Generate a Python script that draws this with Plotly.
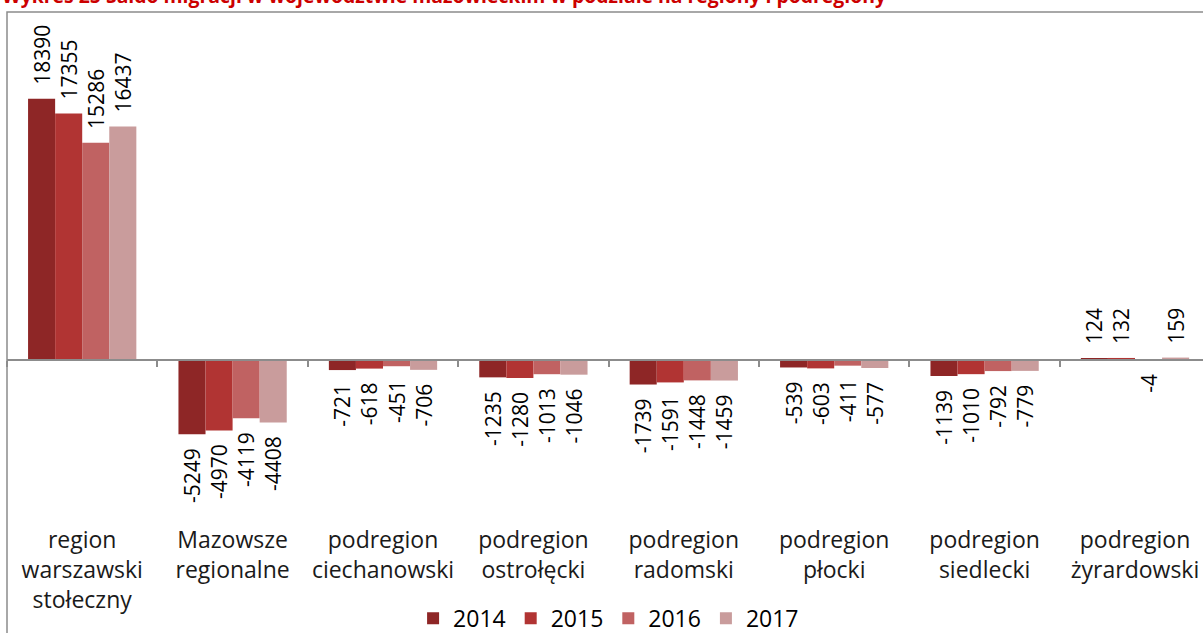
import plotly.graph_objects as go

# ---- data ----
categories = ["region<br>warszawski<br>stołeczny", "Mazowsze<br>regionalne",
              "podregion<br>ciechanowski", "podregion<br>ostrołęcki",
              "podregion<br>radomski", "podregion<br>płocki",
              "podregion<br>siedlecki", "podregion<br>żyrardowski"]
years = ["2014", "2015", "2016", "2017"]
v2014 = [18390, -5249, -721, -1235, -1739, -539, -1139, 124]
v2015 = [17355, -4970, -618, -1280, -1591, -603, -1010, 132]
v2016 = [15286, -4119, -451, -1013, -1448, -411, -792, -4]
v2017 = [16437, -4408, -706, -1046, -1459, -577, -779, 159]
title_text = "Wykres 25 Saldo migracji w województwie mazowieckim w podziale na regiony i podregiony"

series = [v2014, v2015, v2016, v2017]
colors = ["#8e2626", "#b13433", "#c06262", "#c99c9c"]

FONT = "Open Sans"
PAD = "\u00a0\u00a0"

def label(v):
    return PAD + str(v) if v >= 0 else str(v) + PAD

fig = go.Figure()
for name, vals, col in zip(years, series, colors):
    fig.add_trace(go.Bar(
        x=categories, y=vals, name=name,
        marker=dict(color=col, line=dict(width=0)),
        text=[label(v) for v in vals],
        textposition="outside", textangle=-90,
        textfont=dict(family=FONT, size=21, color="#000000"),
        constraintext="none", cliponaxis=False,
        hoverinfo="skip",
    ))

y_lo, y_hi = -11000, 24500
n = len(categories)
x_hi = -0.5 + 1196 / 150.4

fig.update_layout(
    template="none",
    width=1203, height=633,
    margin=dict(l=7, r=0, t=12, b=117, autoexpand=False),
    paper_bgcolor="white", plot_bgcolor="white",
    barmode="group", bargap=0.28, bargroupgap=0,
    showlegend=True,
    legend=dict(orientation="h", x=0.503, xanchor="center", y=-0.203, yanchor="middle",
                font=dict(family=FONT, size=23, color="#000000"),
                itemwidth=30, traceorder="normal", bgcolor="rgba(0,0,0,0)"),
    xaxis=dict(type="category", range=[-0.5, x_hi], showline=False, ticks="",
               showgrid=False, zeroline=False, automargin=False,
               tickfont=dict(family=FONT, size=23, color="#1a1a1a"),
               ticklabelstandoff=8),
    xaxis2=dict(overlaying="x", anchor="free",
                position=(0 - y_lo) / (y_hi - y_lo),
                range=[-0.5, x_hi], showline=True, linecolor="#8c8c8c", linewidth=1.5,
                ticks="outside", ticklen=6, tickcolor="#8c8c8c", tickwidth=1.5,
                tickmode="array", tickvals=[i - 0.5 for i in range(n + 1)],
                showticklabels=False, showgrid=False, zeroline=False, automargin=False),
    yaxis=dict(range=[y_lo, y_hi], showticklabels=False, showgrid=False,
               zeroline=False, showline=False, ticks="", automargin=False),
    font=dict(family=FONT),
)

# invisible trace to activate xaxis2
fig.add_trace(go.Scatter(x=[0], y=[0], xaxis="x2", mode="markers",
                         marker=dict(opacity=0), showlegend=False, hoverinfo="skip"))

# chart-area border (left and top visible)
fig.add_shape(type="rect", xref="paper", yref="paper", x0=0, x1=1.05, y0=-0.5, y1=1,
              line=dict(color="#8c8c8c", width=1.5), layer="below")

fig.add_annotation(text="<b>" + title_text + "</b>", xref="paper", yref="paper",
                   x=-0.006, y=1, xanchor="left", yanchor="bottom", yshift=1,
                   showarrow=False,
                   font=dict(family=FONT, size=19.4, color="#cc0000"))

fig.write_html("out.html", config={"displayModeBar": False},
               post_script="document.body.style.margin='0';document.body.style.overflow='hidden';")
